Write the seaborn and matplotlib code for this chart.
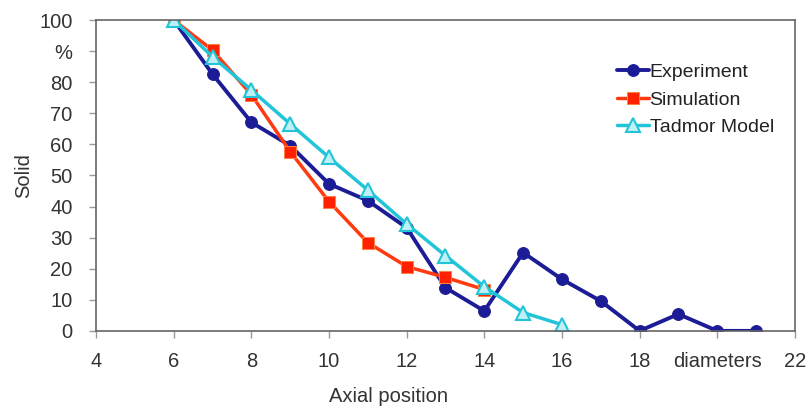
import pandas as pd
import numpy as np
import seaborn as sns
import matplotlib.pyplot as plt

# dados
exp_x = [6, 7, 8, 9, 10, 11, 12, 13, 14, 15, 16, 17, 18, 19, 20, 21]
exp_y = [100, 82.6, 67.1, 59.6, 47.3, 41.9, 33.2, 13.9, 6.4, 25.2, 16.6, 9.6, 0, 5.4, 0, 0]

sim_x = [6, 7, 8, 9, 10, 11, 12, 13, 14]
sim_y = [100, 90.3, 76, 57.7, 41.6, 28.4, 20.7, 17.2, 13.3]

tad_x = [6, 7, 8, 9, 10, 11, 12, 13, 14, 15, 16]
tad_y = [100, 88.2, 77.5, 66.6, 55.8, 45.3, 34.4, 24.2, 14.2, 5.9, 2.0]

x_ticks = [4, 6, 8, 10, 12, 14, 16, 18, 20, 22]
x_labels = ["4", "6", "8", "10", "12", "14", "16", "18", "diameters", "22"]
y_ticks = [0, 10, 20, 30, 40, 50, 60, 70, 80, 90, 100]
y_labels = ["0", "10", "20", "30", "40", "50", "60", "70", "80", "%", "100"]

sns.set_style("white")
plt.rcParams['font.family'] = ['Liberation Sans', 'DejaVu Sans']

fig = plt.figure(figsize=(8.07, 4.09), dpi=100)
ax = fig.add_axes([0.119, 0.191, 0.866, 0.76])

sns.lineplot(x=exp_x, y=exp_y, ax=ax, color="#1c1c96", lw=2.8, marker="o",
             markersize=8.5, markeredgecolor="#1c1c96", label="Experiment")
sns.lineplot(x=sim_x, y=sim_y, ax=ax, color="#ff3a10", lw=2.5, marker="s",
             markersize=8, markerfacecolor="#ff2000", markeredgecolor="#ff8040",
             label="Simulation")
sns.lineplot(x=tad_x, y=tad_y, ax=ax, color="#22c4d8", lw=2.5, marker="^",
             markersize=9.5, markerfacecolor="#bff0f5", markeredgecolor="#22c4d8",
             markeredgewidth=1.5, label="Tadmor Model")

ax.set_xlim(4, 22)
ax.set_ylim(0, 100)
ax.set_xticks(x_ticks)
ax.set_xticklabels(x_labels)
ax.set_yticks(y_ticks)
ax.set_yticklabels(y_labels)
ax.tick_params(axis="both", labelsize=14.5, colors="#333333", direction="out",
               length=5, width=1, bottom=True, left=True)
ax.tick_params(axis="x", pad=10, colors="#999999", labelcolor="#333333")
ax.tick_params(axis="y", pad=12, colors="#999999", labelcolor="#333333")
for s in ax.spines.values():
    s.set_color("#666666")
    s.set_linewidth(1.2)

ax.set_ylabel("Solid", fontsize=14.5, color="#333333")
ax.yaxis.set_label_coords(-0.09, 0.5)
ax.set_xlabel("Axial position", fontsize=14.5, color="#333333", va="top")
ax.xaxis.set_label_coords(0.418, -0.18)

leg = ax.legend(loc="upper left", bbox_to_anchor=(0.735, 0.885), frameon=False,
                fontsize=14, handlelength=1.6, handletextpad=0.05,
                labelspacing=0.5, borderaxespad=0)
for t in leg.get_texts():
    t.set_color("#222222")

plt.savefig("out.png", dpi=100)
